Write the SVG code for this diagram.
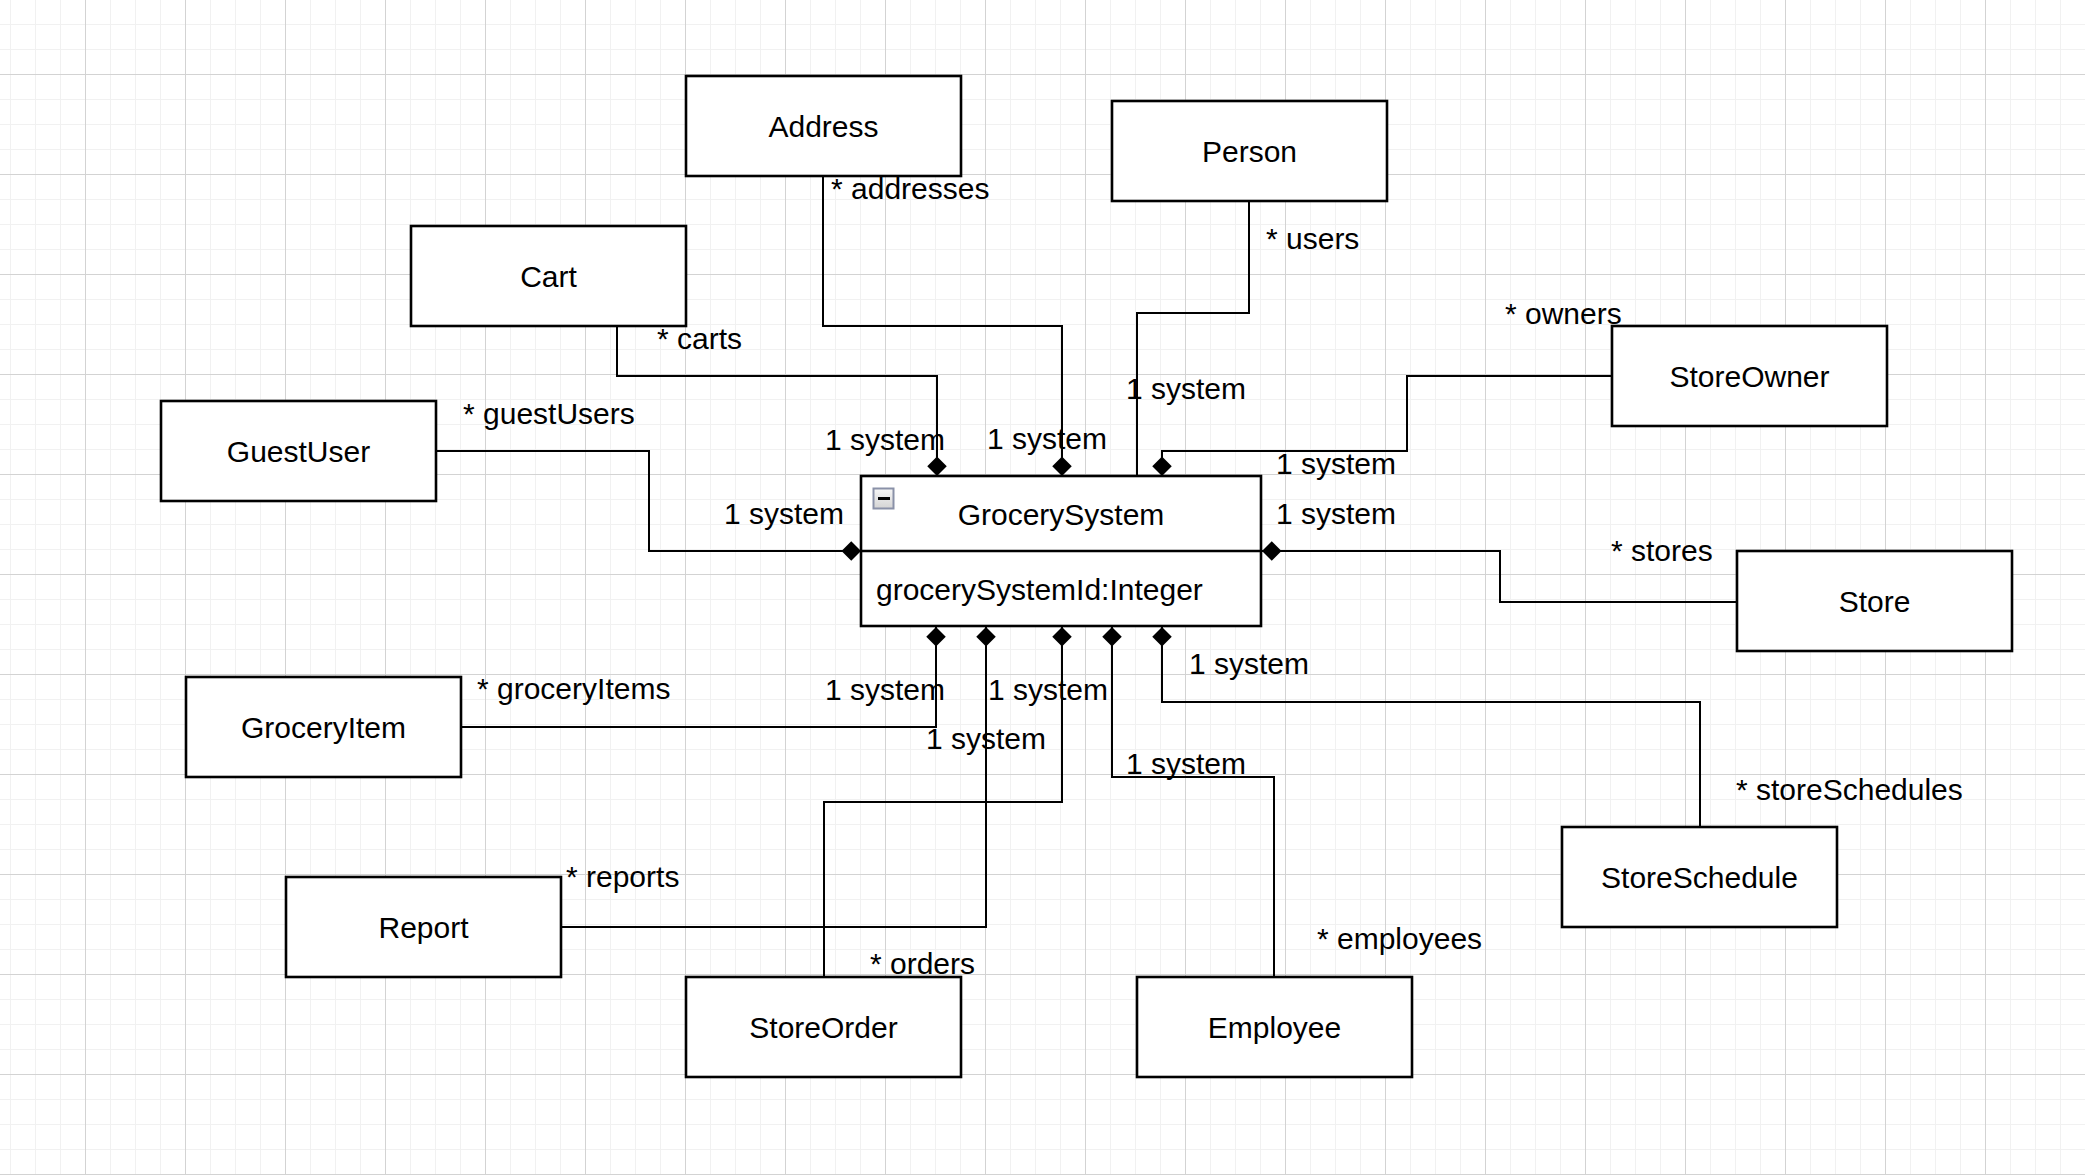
<svg xmlns="http://www.w3.org/2000/svg" xmlns:xlink="http://www.w3.org/1999/xlink" width="2085" height="1175" viewBox="0 0 2085 1175">
  <style>
    .box { fill: #ffffff; stroke: #000000; stroke-width: 2.6; }
    .edge { fill: none; stroke: #000000; stroke-width: 2; }
    .comp { marker-end: url(#diamond); }
    .name { font-family: "Liberation Sans", Arial, sans-serif; font-size: 30px; fill: #000000; text-anchor: middle; }
    .txt { font-family: "Liberation Sans", Arial, sans-serif; font-size: 30px; fill: #000000; }
  </style>
  <defs>
    <pattern id="grid" patternUnits="userSpaceOnUse" x="85" y="74" width="100" height="100">
      <path d="M25.5 0V100M50.5 0V100M75.5 0V100M0 25.5H100M0 50.5H100M0 75.5H100" fill="none" stroke="#f1f1f1" stroke-width="1"/>
      <path d="M0.5 0V100M0 0.5H100" fill="none" stroke="#d3d3d3" stroke-width="1"/>
    </pattern>
    <linearGradient id="btnFill" x1="0" y1="0" x2="0" y2="1">
      <stop offset="0" stop-color="#f6f6f6"/>
      <stop offset="1" stop-color="#d4d4d4"/>
    </linearGradient>
    <!-- filled composition diamond, tip at the path end -->
    <marker id="diamond" markerUnits="userSpaceOnUse" markerWidth="20" markerHeight="20" refX="19.5" refY="9.75" orient="auto" overflow="visible">
      <path d="M19.5 9.75L9.75 0L0 9.75L9.75 19.5Z" fill="#000000"/>
    </marker>
  </defs>

  <rect width="2085" height="1175" fill="#ffffff"/>
  <rect width="2085" height="1175" fill="url(#grid)"/>

  <!-- associations to GrocerySystem -->
  <g id="connectors">
    <path class="edge comp" d="M617 326V376H937V476"/>
    <path class="edge comp" d="M823 176V326H1062V476"/>
    <path class="edge" d="M1249 201V313H1137V476"/>
    <path class="edge comp" d="M1612 376H1407V451H1162V476"/>
    <path class="edge comp" d="M1737 602H1500V551H1262"/>
    <path class="edge comp" d="M436 451H649V551H861"/>
    <path class="edge comp" d="M461 727H936V627"/>
    <path class="edge comp" d="M561 927H986V627"/>
    <path class="edge comp" d="M824 977V802H1062V627"/>
    <path class="edge comp" d="M1274 977V777H1112V627"/>
    <path class="edge comp" d="M1700 827V702H1162V627"/>

    <!-- role labels -->
    <text class="txt" x="831" y="199">* addresses</text>
    <text class="txt" x="1266" y="249">* users</text>
    <text class="txt" x="657" y="349">* carts</text>
    <text class="txt" x="825" y="450">1 system</text>
    <text class="txt" x="987" y="449">1 system</text>
    <text class="txt" x="1126" y="399">1 system</text>
    <text class="txt" x="1505" y="324">* owners</text>
    <text class="txt" x="1276" y="474">1 system</text>
    <text class="txt" x="1276" y="524">1 system</text>
    <text class="txt" x="1611" y="561">* stores</text>
    <text class="txt" x="463" y="424">* guestUsers</text>
    <text class="txt" x="724" y="524">1 system</text>
    <text class="txt" x="477" y="699">* groceryItems</text>
    <text class="txt" x="825" y="700">1 system</text>
    <text class="txt" x="988" y="700">1 system</text>
    <text class="txt" x="566" y="887">* reports</text>
    <text class="txt" x="926" y="749">1 system</text>
    <text class="txt" x="870" y="974">* orders</text>
    <text class="txt" x="1126" y="774">1 system</text>
    <text class="txt" x="1317" y="949">* employees</text>
    <text class="txt" x="1189" y="674">1 system</text>
    <text class="txt" x="1736" y="800">* storeSchedules</text>
  </g>

  <g id="GrocerySystem">
    <rect class="box" x="861" y="476" width="400" height="150"/>
    <line x1="861" y1="551" x2="1261" y2="551" stroke="#000000" stroke-width="2.6"/>
    <rect x="873.5" y="488.5" width="20" height="20" fill="url(#btnFill)" stroke="#8a91a8" stroke-width="2"/>
    <rect x="878" y="497" width="12" height="3" fill="#000000"/>
    <text class="name" x="1061" y="525">GrocerySystem</text>
    <text class="txt" x="876" y="600">grocerySystemId:Integer</text>
  </g>

  <g id="Address">
    <rect class="box" x="686" y="76" width="275" height="100"/>
    <text class="name" x="823.5" y="137">Address</text>
  </g>
  <g id="Person">
    <rect class="box" x="1112" y="101" width="275" height="100"/>
    <text class="name" x="1249.5" y="162">Person</text>
  </g>
  <g id="Cart">
    <rect class="box" x="411" y="226" width="275" height="100"/>
    <text class="name" x="548.5" y="287">Cart</text>
  </g>
  <g id="GuestUser">
    <rect class="box" x="161" y="401" width="275" height="100"/>
    <text class="name" x="298.5" y="462">GuestUser</text>
  </g>
  <g id="GroceryItem">
    <rect class="box" x="186" y="677" width="275" height="100"/>
    <text class="name" x="323.5" y="738">GroceryItem</text>
  </g>
  <g id="Report">
    <rect class="box" x="286" y="877" width="275" height="100"/>
    <text class="name" x="423.5" y="938">Report</text>
  </g>
  <g id="StoreOrder">
    <rect class="box" x="686" y="977" width="275" height="100"/>
    <text class="name" x="823.5" y="1038">StoreOrder</text>
  </g>
  <g id="Employee">
    <rect class="box" x="1137" y="977" width="275" height="100"/>
    <text class="name" x="1274.5" y="1038">Employee</text>
  </g>
  <g id="StoreSchedule">
    <rect class="box" x="1562" y="827" width="275" height="100"/>
    <text class="name" x="1699.5" y="888">StoreSchedule</text>
  </g>
  <g id="Store">
    <rect class="box" x="1737" y="551" width="275" height="100"/>
    <text class="name" x="1874.5" y="612">Store</text>
  </g>
  <g id="StoreOwner">
    <rect class="box" x="1612" y="326" width="275" height="100"/>
    <text class="name" x="1749.5" y="387">StoreOwner</text>
  </g>
</svg>
